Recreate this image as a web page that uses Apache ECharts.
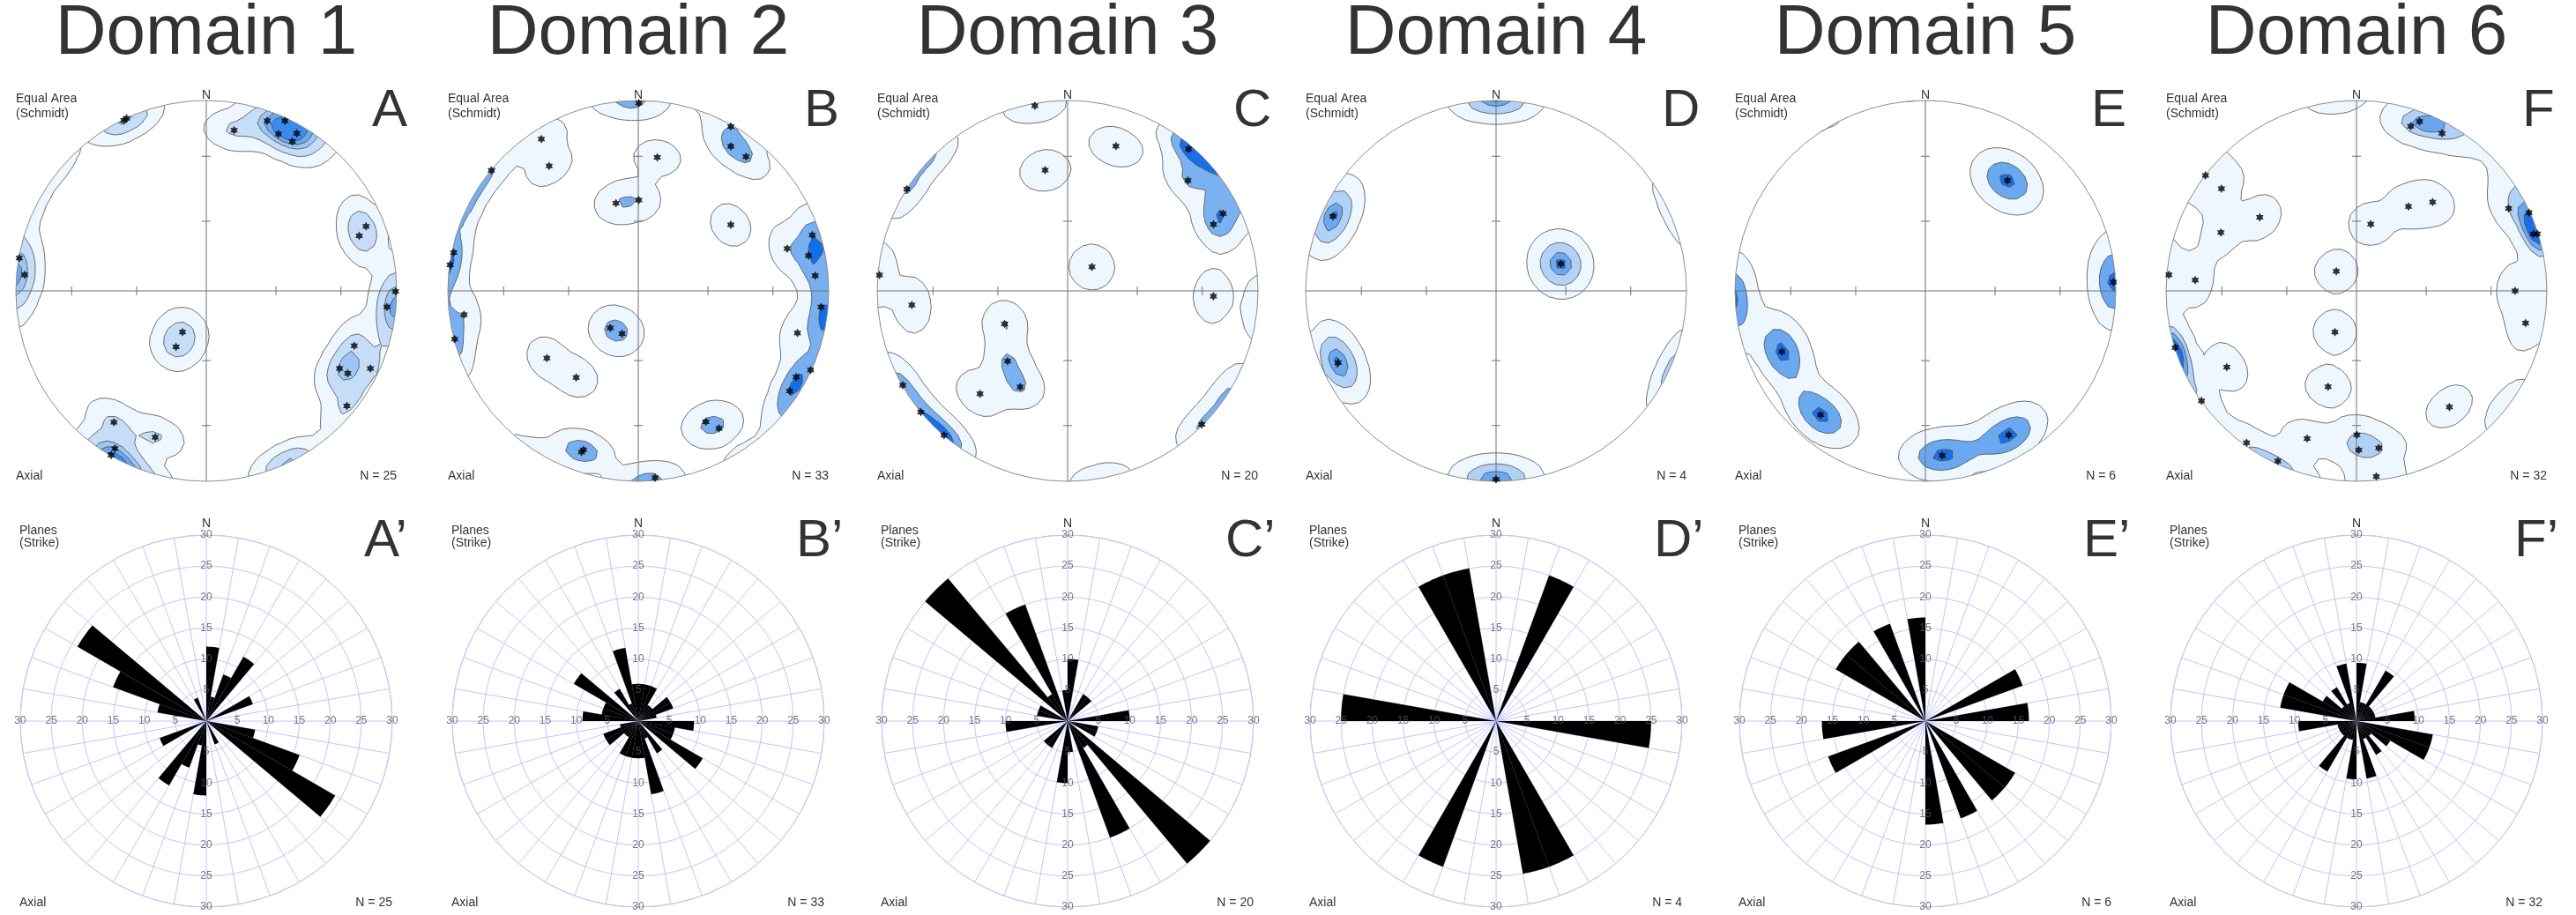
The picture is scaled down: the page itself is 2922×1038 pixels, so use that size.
<!DOCTYPE html>
<html><head><meta charset="utf-8">
<script src="https://cdn.jsdelivr.net/npm/echarts@6/dist/echarts.min.js"></script>
<style>html,body{margin:0;padding:0;background:#fff}#c{width:2922px;height:1038px}</style>
</head><body><div id="c"></div>
<script>
// ---------------- DATA ----------------
const domainNames = ['Domain 1','Domain 2','Domain 3','Domain 4','Domain 5','Domain 6'];
const stereoLetters = ['A','B','C','D','E','F'];
const roseLetters = ['A\u2019','B\u2019','C\u2019','D\u2019','E\u2019','F\u2019'];
const counts = [25, 33, 20, 4, 6, 32];

// poles, equal-area net coordinates [east, north], net radius = 1
const polesA = [[-0.433,0.896],[-0.419,0.906],[0.146,0.844],[0.320,0.893],[0.413,0.893],[0.379,0.824],[0.475,0.827],[0.452,0.785],[0.839,0.339],[0.803,0.289],[-0.982,0.172],[-0.954,0.084],[0.994,-0.003],[0.949,-0.084],[-0.125,-0.217],[-0.159,-0.294],[0.777,-0.288],[0.700,-0.407],[0.743,-0.433],[0.862,-0.407],[0.738,-0.604],[-0.485,-0.690],[-0.268,-0.768],[-0.480,-0.828],[-0.500,-0.862]];
const polesB = [[0.003,0.986],[0.486,0.864],[-0.509,0.798],[0.486,0.759],[0.100,0.701],[0.566,0.705],[-0.468,0.656],[-0.772,0.633],[-0.117,0.461],[0.003,0.477],[0.486,0.347],[0.914,0.293],[0.782,0.222],[0.894,0.185],[-0.969,0.201],[-0.988,0.136],[0.929,0.080],[0.960,-0.085],[-0.915,-0.125],[-0.147,-0.194],[-0.085,-0.225],[0.836,-0.221],[-0.964,-0.254],[-0.480,-0.353],[0.905,-0.415],[-0.326,-0.455],[0.829,-0.452],[0.795,-0.526],[0.355,-0.687],[0.424,-0.722],[-0.287,-0.835],[-0.298,-0.846],[0.088,-0.981]];
const polesC = [[-0.172,0.972],[0.254,0.760],[-0.118,0.634],[0.635,0.745],[-0.844,0.535],[0.632,0.580],[0.817,0.406],[0.766,0.349],[0.128,0.126],[-0.988,0.083],[-0.818,-0.074],[0.766,-0.028],[-0.331,-0.174],[-0.315,-0.369],[-0.866,-0.495],[-0.249,-0.505],[-0.460,-0.540],[-0.771,-0.637],[0.705,-0.701],[-0.649,-0.758]];
const polesD = [[-0.857,0.391],[0.340,0.142],[-0.829,-0.377],[0.000,-0.990]];
const polesE = [[0.431,0.580],[0.988,0.046],[-0.754,-0.320],[-0.551,-0.651],[0.438,-0.757],[0.089,-0.865]];
const polesF = [[0.331,0.890],[0.285,0.865],[0.449,0.827],[-0.793,0.606],[-0.709,0.537],[0.400,0.466],[0.273,0.443],[0.799,0.433],[0.906,0.411],[-0.508,0.387],[0.075,0.351],[-0.712,0.307],[0.929,0.299],[0.950,0.300],[-0.106,0.103],[-0.985,0.084],[-0.847,0.057],[0.833,0.000],[0.888,-0.169],[-0.113,-0.216],[-0.952,-0.298],[-0.681,-0.400],[-0.149,-0.503],[-0.814,-0.577],[0.488,-0.610],[0.002,-0.756],[-0.259,-0.776],[-0.577,-0.798],[0.012,-0.836],[0.117,-0.825],[-0.413,-0.894],[0.104,-0.975]];
const poles = [polesA, polesB, polesC, polesD, polesE, polesF];

// rose diagrams: percentage per 10-degree strike bin, 0-180 (axial: repeated 180-360)
const roseA = [12,4,8,12,0,0,8,0,0,0,8,16,24,0,0,4,0,0];
const roseB = [6,6,6,3,3,6,6,3,0,9,6,6,12,0,6,3,12,6];
const roseC = [10,0,0,5,5,0,0,0,10,0,5,5,0,30,5,20,0,5];
const roseD = [0,0,25,0,0,0,0,0,0,25,0,0,0,0,0,25,25,0];
const roseE = [0,0,0,0,0,0,16.7,0,16.7,0,0,0,16.7,16.7,0,16.7,0,16.7];
const roseF = [9.4,3.1,3.1,9.4,3.1,3.1,3.1,3.1,9.4,0,12.5,12.5,6.3,3.1,6.3,3.1,9.4,0];
const roses = [roseA, roseB, roseC, roseD, roseE, roseF];
const roseTicks = [5,10,15,20,25,30];
const roseTickDirections = [0,90,180,270];
const netTickDips = [30,60];

// contouring: smoothing width (radians) and density levels per domain
const contourSigma = [0.1, 0.1, 0.1, 0.14, 0.14, 0.1];
const contourLevels = [
  [0.2,0.9,1.8,2.4,3.0],
  [0.32,1.3,2.2],
  [0.24,0.98,1.6],
  [0.19,0.54,0.83,0.955],
  [0.19,0.6,0.92],
  [0.28,1.45,2.1,2.7]
];
const levelColors = [
  ['#eef6fe','#c6ddf8','#9ec6f4','#6ba8f0','#3b8bef'],
  ['#eef6fe','#78aff1','#126fec'],
  ['#eef6fe','#7ab2f1','#1a6ee8'],
  ['#eef6fe','#b2d1f7','#6aa8f0','#2379ea'],
  ['#eef6fe','#6aa8f0','#1a6fe8'],
  ['#eef6fe','#b0d0f6','#6aa6f0','#1a6fe8']
];

// ---------------- LAYOUT ----------------
const CX = [234, 724, 1211, 1697, 2184, 2673];
const S_CY = 330, S_R = 216;
const R_CY = 818, R_R = 211;
const FAMILY = '"Liberation Sans", Arial, sans-serif';
const roseGridColor = '#c4c4fa';

// ---------------- density contouring ----------------
function toVec(x, y) {
  let r = Math.hypot(x, y);
  if (r > 0.999) { x *= 0.999 / r; y *= 0.999 / r; r = 0.999; }
  const th = 2 * Math.asin(r / Math.SQRT2);
  const s = Math.sin(th);
  const ux = r > 0 ? x / r : 0, uy = r > 0 ? y / r : 0;
  return [s * ux, s * uy, -Math.cos(th)];
}
const GRID_N = 57, GRID_EXT = 1.12;
function densityGrid(pts, sigma) {
  const vecs = pts.map(p => toVec(p[0], p[1]));
  const xs = [];
  for (let i = 0; i < GRID_N; i++) xs.push(-GRID_EXT + 2 * GRID_EXT * i / (GRID_N - 1));
  const g = [];
  const k2 = 1 / (2 * sigma * sigma);
  for (let j = 0; j < GRID_N; j++) {
    const row = [];
    for (let i = 0; i < GRID_N; i++) {
      const x = xs[i], y = xs[j], r = Math.hypot(x, y);
      if (i === 0 || j === 0 || i === GRID_N - 1 || j === GRID_N - 1 || r > 1.07) { row.push(-1); continue; }
      const v = toVec(x, y);
      let s = 0;
      for (const q of vecs) {
        const d = Math.min(1, Math.abs(v[0]*q[0] + v[1]*q[1] + v[2]*q[2]));
        const th = Math.acos(d);
        s += Math.exp(-th * th * k2);
      }
      row.push(s);
    }
    g.push(row);
  }
  return { xs, g };
}
function marching(xs, g, t) {
  const n = xs.length;
  const segMap = new Map();
  const pt = (ia, ja, ib, jb) => {
    const va = g[ja][ia], vb = g[jb][ib];
    const f = (t - va) / (vb - va);
    return [xs[ia] + f * (xs[ib] - xs[ia]), xs[ja] + f * (xs[jb] - xs[ja])];
  };
  for (let j = 0; j < n - 1; j++) for (let i = 0; i < n - 1; i++) {
    const C = [[i,j],[i+1,j],[i+1,j+1],[i,j+1]];
    const ins = C.map(c => g[c[1]][c[0]] >= t);
    const keys = ['h'+i+'_'+j, 'v'+(i+1)+'_'+j, 'h'+i+'_'+(j+1), 'v'+i+'_'+j];
    const cr = [];
    for (let k = 0; k < 4; k++) {
      const a = k, b = (k + 1) % 4;
      if (ins[a] !== ins[b]) cr.push({ k, out: ins[a], p: pt(C[a][0], C[a][1], C[b][0], C[b][1]) });
    }
    if (!cr.length) continue;
    const add = (o, q) => segMap.set(keys[o.k], { p: o.p, next: keys[q.k] });
    if (cr.length === 2) {
      const o = cr[0].out ? cr[0] : cr[1], q = cr[0].out ? cr[1] : cr[0];
      add(o, q);
    } else {
      const center = (g[j][i] + g[j][i+1] + g[j+1][i+1] + g[j+1][i]) / 4 >= t;
      for (let m = 0; m < 4; m++) if (cr[m].out) add(cr[m], center ? cr[(m+1)%4] : cr[(m+3)%4]);
    }
  }
  const loops = [], used = new Set();
  for (const key of segMap.keys()) {
    if (used.has(key)) continue;
    const loop = [];
    let k = key;
    while (k && !used.has(k)) {
      used.add(k);
      const s = segMap.get(k);
      if (!s) break;
      loop.push(s.p);
      k = s.next;
    }
    if (loop.length > 2) loops.push(loop);
  }
  return loops;
}
const contours = poles.map((pts, d) => {
  const { xs, g } = densityGrid(pts, contourSigma[d]);
  return contourLevels[d].map(t => marching(xs, g, t));
});

// ---------------- OPTION ----------------
const starPath = 'path://M0,-10L2.89,-5L8.66,-5L5.77,0L8.66,5L2.89,5L0,10L-2.89,5L-8.66,5L-5.77,0L-8.66,-5L-2.89,-5Z';
const grid = [], xAxis = [], yAxis = [], polar = [], angleAxis = [], radiusAxis = [], series = [], graphic = [];

for (let d = 0; d < 6; d++) {
  const cx = CX[d];
  grid.push({ left: cx - S_R, top: S_CY - S_R, width: 2 * S_R, height: 2 * S_R });
  xAxis.push({ gridIndex: d, type: 'value', min: -1, max: 1, show: false });
  yAxis.push({ gridIndex: d, type: 'value', min: -1, max: 1, show: false });
  polar.push({ center: [cx, R_CY], radius: R_R });
  angleAxis.push({ polarIndex: d, type: 'value', min: 0, max: 360, interval: 10, startAngle: 90, clockwise: true,
    axisLine: { show: true, lineStyle: { color: roseGridColor, width: 1 } }, axisTick: { show: false }, axisLabel: { show: false },
    splitLine: { show: true, lineStyle: { color: roseGridColor, width: 1 } } });
  radiusAxis.push({ polarIndex: d, type: 'value', min: 0, max: 30, interval: 5,
    axisLine: { show: false }, axisTick: { show: false }, axisLabel: { show: false },
    splitLine: { show: true, lineStyle: { color: roseGridColor, width: 1 } } });

  // contour fills
  const lv = contours[d], cols = levelColors[d];
  series.push({ type: 'custom', xAxisIndex: d, yAxisIndex: d, z: 1, silent: true, animation: false,
    data: lv.map(() => [0, 0]),
    renderItem: (params, api) => {
      const k = params.dataIndex;
      let pd = '';
      for (const loop of lv[k]) {
        loop.forEach((p, idx) => { const c = api.coord(p); pd += (idx ? 'L' : 'M') + c[0].toFixed(2) + ' ' + c[1].toFixed(2); });
        pd += 'Z';
      }
      if (!pd) return null;
      return { type: 'path', z2: k, shape: { pathData: pd }, style: { fill: cols[k], stroke: '#4d4d4d', lineWidth: 0.8 } };
    } });
  // mask outside the net
  series.push({ type: 'custom', xAxisIndex: d, yAxisIndex: d, z: 2, silent: true, animation: false, data: [[0, 0]],
    renderItem: (params, api) => {
      const c = api.coord([0, 0]), e = api.coord([1, 0]);
      const r = e[0] - c[0];
      return { type: 'ring', shape: { cx: c[0], cy: c[1], r: r + 34, r0: r }, style: { fill: '#ffffff' } };
    } });
  // net frame
  series.push({ type: 'custom', xAxisIndex: d, yAxisIndex: d, z: 3, silent: true, animation: false, data: [[0, 0]],
    renderItem: (params, api) => {
      const c = api.coord([0, 0]);
      const R = api.coord([1, 0])[0] - c[0];
      const ln = (a, b) => ({ type: 'line', shape: { x1: a[0], y1: a[1], x2: b[0], y2: b[1] }, style: { stroke: '#707070', lineWidth: 1 } });
      const ch = [
        { type: 'circle', shape: { cx: c[0], cy: c[1], r: R }, style: { fill: 'transparent', stroke: '#8c8c8c', lineWidth: 1 } },
        ln(api.coord([-1, 0]), api.coord([1, 0])), ln(api.coord([0, -1]), api.coord([0, 1]))
      ];
      for (const dip of netTickDips) {
        const r = Math.SQRT2 * Math.sin(dip * Math.PI / 360);
        for (const s of [-1, 1]) {
          const px = api.coord([s * r, 0]); ch.push(ln([px[0], px[1] - 5], [px[0], px[1] + 5]));
          const py = api.coord([0, s * r]); ch.push(ln([py[0] - 5, py[1]], [py[0] + 5, py[1]]));
        }
      }
      return { type: 'group', children: ch };
    } });
  // poles
  series.push({ type: 'scatter', xAxisIndex: d, yAxisIndex: d, z: 4, silent: true, animation: false,
    data: poles[d], symbol: starPath, symbolKeepAspect: true, symbolSize: 10, itemStyle: { color: '#000' } });

  // rose petals
  const full = [];
  for (let k = 0; k < 36; k++) full.push([roses[d][k % 18], k * 10]);
  series.push({ type: 'custom', coordinateSystem: 'polar', polarIndex: d, z: 3, silent: true, animation: false,
    data: full,
    renderItem: (params, api) => {
      const v = api.value(0), a0 = api.value(1);
      if (!v) return null;
      const pts = [api.coord([0, a0])];
      for (let a = a0; a <= a0 + 10.001; a += 1) pts.push(api.coord([v, a]));
      return { type: 'polygon', shape: { points: pts }, style: { fill: '#000' } };
    } });
  // rose scale labels
  const lab = [];
  for (const dir of roseTickDirections) for (const t of roseTicks) lab.push([t, dir]);
  series.push({ type: 'scatter', coordinateSystem: 'polar', polarIndex: d, z: 5, silent: true, animation: false,
    data: lab, symbolSize: 1, itemStyle: { color: 'rgba(0,0,0,0)' },
    label: { show: true, position: 'inside', formatter: p => String(p.value[0]), color: '#555', fontSize: 12, fontFamily: FAMILY } });

  // texts
  const T = (text, x, y, size, align, color) => ({ type: 'text', x, y, z: 100, silent: true,
    style: { text, font: size + 'px ' + FAMILY, fontSize: size, fontFamily: FAMILY, fill: color || '#333', align: align || 'left', verticalAlign: 'middle' } });
  graphic.push(
    T(domainNames[d], cx, 39, 80, 'center', '#333'),
    T(stereoLetters[d], cx + 188, 126, 60, 'left', '#333'),
    T('Equal Area', cx - 216, 112, 14, 'left'),
    T('(Schmidt)', cx - 216, 129, 14, 'left'),
    T('N', cx, 108, 14, 'center'),
    T('Axial', cx - 216, 540, 14, 'left'),
    T('N = ' + counts[d], cx + 216, 540, 14, 'right'),
    T(roseLetters[d], cx + 179, 614, 60, 'left', '#333'),
    T('Planes', cx - 212, 602, 14, 'left'),
    T('(Strike)', cx - 212, 616, 14, 'left'),
    T('N', cx, 594, 14, 'center'),
    T('Axial', cx - 212, 1024, 14, 'left'),
    T('N = ' + counts[d], cx + 211, 1024, 14, 'right')
  );
}

const chart = echarts.init(document.getElementById('c'), null, { renderer: 'canvas' });
chart.setOption({ backgroundColor: '#ffffff', animation: false, grid, xAxis, yAxis, polar, angleAxis, radiusAxis, series, graphic });
</script></body></html>
